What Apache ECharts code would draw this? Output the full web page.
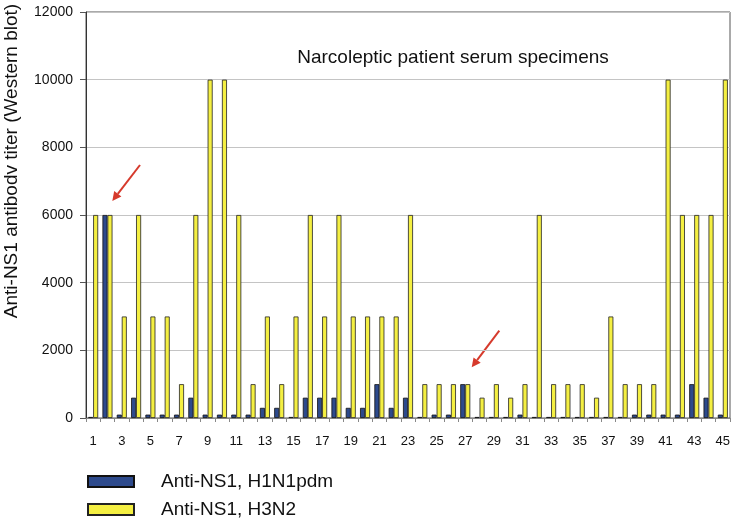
<!DOCTYPE html>
<html><head><meta charset="utf-8">
<script src="https://cdn.jsdelivr.net/npm/echarts@6/dist/echarts.min.js"></script>
<style>html,body{margin:0;padding:0;background:#fff}#c{width:734px;height:519px}</style>
</head><body><div id="c"></div>
<script>
var categories = [];
for (var i = 1; i <= 45; i++) categories.push(String(i));
var h1n1 = [30,6000,100,600,100,100,100,600,100,100,100,100,300,300,30,600,600,600,300,300,1000,300,600,30,100,100,1000,30,30,30,100,30,30,30,30,30,30,30,100,100,100,100,1000,600,100];
var h3n2 = [6000,6000,3000,6000,3000,3000,1000,6000,10000,10000,6000,1000,3000,1000,3000,6000,3000,6000,3000,3000,3000,3000,6000,1000,1000,1000,1000,600,1000,600,1000,6000,1000,1000,1000,600,3000,1000,1000,1000,10000,6000,6000,6000,10000];
var yTicks = {min: 0, max: 12000, interval: 2000};
var seriesNames = ['Anti-NS1, H1N1pdm', 'Anti-NS1, H3N2'];

var chart = echarts.init(document.getElementById('c'));
var font = 'Liberation Sans, Arial, sans-serif';
var legendText = {fontFamily: font, fontSize: 19, color: '#111', padding: [0,0,0,22]};
chart.setOption({
  animation: false,
  textStyle: {fontFamily: font},
  grid: {left: 86, right: 4, top: 12, bottom: 101, show: true, borderColor: '#555', borderWidth: 1,
    containLabel: false, outerBoundsMode: 'none'},
  title: {text: 'Narcoleptic patient serum specimens', left: 448, top: 43, textAlign: 'center',
    textStyle: {fontFamily: font, fontSize: 19, fontWeight: 'normal', color: '#111'}},
  legend: [
    {left: 82, top: 467, itemWidth: 46, itemHeight: 11, icon: 'rect', textStyle: legendText, data: [seriesNames[0]]},
    {left: 82, top: 495, itemWidth: 46, itemHeight: 11, icon: 'rect', textStyle: legendText, data: [seriesNames[1]]}
  ],
  xAxis: {type: 'category', data: categories,
    axisLine: {lineStyle: {color: '#888'}},
    axisTick: {show: true, interval: 0, length: 4, lineStyle: {color: '#888'}},
    axisLabel: {interval: 1, color: '#111', fontSize: 13, margin: 17}},
  yAxis: {type: 'value', min: yTicks.min, max: yTicks.max, interval: yTicks.interval,
    name: 'Anti-NS1 antibodv titer (Western blot)', nameLocation: 'middle', nameGap: 65,
    nameTextStyle: {fontFamily: font, fontSize: 19, color: '#111', padding: [0,0,0,108]},
    axisLine: {show: true, lineStyle: {color: '#333'}},
    axisTick: {show: true, length: 6, lineStyle: {color: '#555'}},
    splitLine: {lineStyle: {color: '#c4c4c4'}},
    axisLabel: {color: '#111', fontSize: 14, margin: 13, formatter: function (v) { return String(v); }}},
  series: [
    {name: seriesNames[0], type: 'bar', data: h1n1, barWidth: 5, barGap: '0%',
      itemStyle: {color: '#2d4a8c', borderColor: '#111', borderWidth: 0.8}},
    {name: seriesNames[1], type: 'bar', data: h3n2, barWidth: 5, barGap: '0%',
      itemStyle: {color: '#f4ef42', borderColor: '#222', borderWidth: 0.8}}
  ],
  graphic: [
    {type: 'line', shape: {x1: 140, y1: 165, x2: 117.8, y2: 193.9}, style: {stroke: '#d63a2c', lineWidth: 2}},
    {type: 'polygon', shape: {points: [[112.3,201],[121.4,196.6],[114.2,191.1]]}, style: {fill: '#d63a2c'}},
    {type: 'line', shape: {x1: 499.3, y1: 330.7, x2: 477.1, y2: 360.1}, style: {stroke: '#d63a2c', lineWidth: 2}},
    {type: 'polygon', shape: {points: [[471.7,367.3],[480.7,362.8],[473.5,357.4]]}, style: {fill: '#d63a2c'}}
  ]
});
</script>
</body></html>
